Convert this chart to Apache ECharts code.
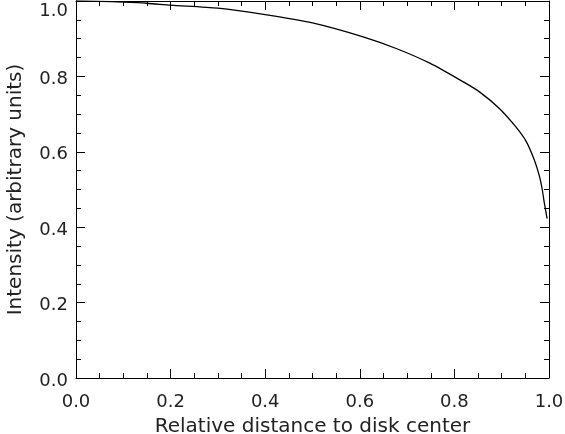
<!DOCTYPE html>
<html>
<head>
<meta charset="utf-8">
<script src="https://cdn.jsdelivr.net/npm/echarts@6/dist/echarts.min.js"></script>
<style>
html, body { margin: 0; padding: 0; background: #fff; }
#myChart { width: 565px; height: 434px; }
</style>
</head>
<body>
<div id="myChart"></div>
<script>
// distance from disk center (r/R) and intensity
var distance = [0, 0.05, 0.1, 0.15, 0.2, 0.3, 0.4, 0.5, 0.607, 0.677, 0.748, 0.818, 0.853, 0.895, 0.93, 0.952, 0.969, 0.98, 0.986, 0.99, 0.996];
var intensity = [1.0, 0.999, 0.997, 0.994, 0.989, 0.981, 0.964, 0.942, 0.905, 0.874, 0.835, 0.786, 0.759, 0.715, 0.666, 0.627, 0.578, 0.534, 0.498, 0.465, 0.423];

var xTitle = 'Relative distance to disk center';
var yTitle = 'Intensity (arbitrary units)';

var points = distance.map(function (d, i) { return [d, intensity[i]]; });

var font = 'DejaVu Sans';
var ink = '#000';
var textInk = '#222';

function boxAxis(extra) {
  var a = {
    type: 'value',
    min: 0,
    max: 1,
    interval: 0.2,
    axisLine: { show: true, onZero: false, lineStyle: { color: ink, width: 1 } },
    axisTick: { show: true, inside: true, length: 9, lineStyle: { color: ink, width: 1 } },
    minorTick: { show: true, splitNumber: 4, length: 5, lineStyle: { color: ink, width: 1 } },
    splitLine: { show: false },
    axisLabel: { show: false }
  };
  for (var k in extra) a[k] = extra[k];
  return a;
}

var chart = echarts.init(document.getElementById('myChart'));
chart.setOption({
  animation: false,
  backgroundColor: '#fff',
  grid: { left: 76, right: 16, top: 1, bottom: 56, containLabel: false, outerBoundsMode: 'none' },
  xAxis: [
    boxAxis({
      position: 'bottom',
      name: xTitle,
      nameLocation: 'middle',
      nameGap: 39,
      nameTextStyle: { fontFamily: font, fontSize: 20, color: textInk },
      axisLabel: {
        show: true, margin: 15, fontFamily: font, fontSize: 18, color: textInk,
        formatter: function (v) { return v.toFixed(1); }
      }
    }),
    boxAxis({ position: 'top' })
  ],
  yAxis: [
    boxAxis({
      position: 'left',
      name: yTitle,
      nameLocation: 'middle',
      nameGap: 50,
      nameTextStyle: { fontFamily: font, fontSize: 20, color: textInk },
      axisLabel: {
        show: true, margin: 8, color: textInk,
        formatter: function (v) { return v === 1 ? '{t|1.0}' : '{n|' + v.toFixed(1) + '}'; },
        rich: {
          t: { fontFamily: font, fontSize: 18, color: textInk, padding: [20, 0, 0, 0] },
          n: { fontFamily: font, fontSize: 18, color: textInk, padding: [6, 0, 0, 0] }
        }
      }
    }),
    boxAxis({ position: 'right' })
  ],
  series: [{
    type: 'line',
    data: points,
    showSymbol: false,
    smooth: 0.25,
    lineStyle: { color: ink, width: 1.3 }
  }]
});
</script>
</body>
</html>
